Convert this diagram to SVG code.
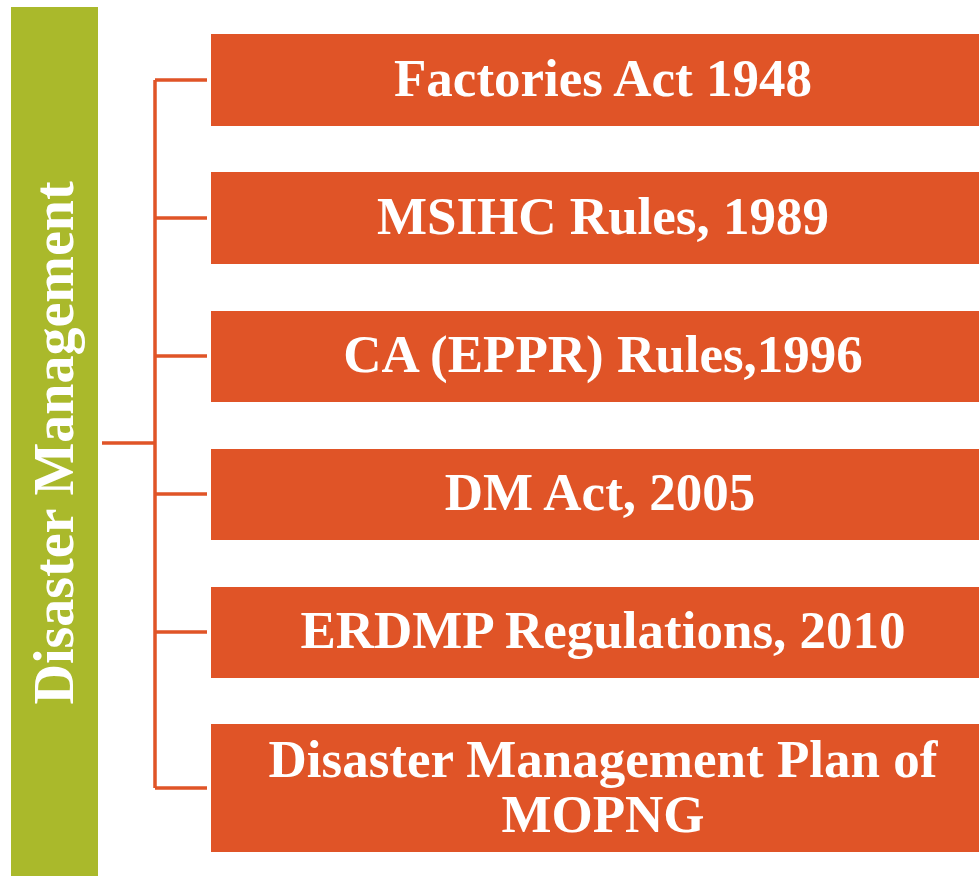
<svg xmlns="http://www.w3.org/2000/svg" width="979" height="876" viewBox="0 0 979 876">
<style>
.box{fill:#E05427;}
.lbl{font-family:"Liberation Serif","Times New Roman",serif;font-weight:bold;font-size:53px;fill:#FFFFFF;text-anchor:middle;}
.conn{fill:none;stroke:#E05427;stroke-width:3.5;}
</style>
<rect width="979" height="876" fill="#FFFFFF"/>
<g id="root">
<rect x="11" y="7" width="87" height="880" fill="#AAB92B"/>
<text transform="translate(73,443) rotate(-90)" font-family="Liberation Serif, Times New Roman, serif" font-weight="bold" font-size="56" fill="#FFFFFF" text-anchor="middle">Disaster Management</text>
</g>
<g id="connectors">
<path class="conn" d="M102,443 H155 M155,80 V788 M155,80 H207 M155,218 H207 M155,356 H207 M155,494 H207 M155,632 H207 M155,788 H207"/>
</g>
<g id="n1"><rect class="box" x="211" y="34" width="784" height="92"/><text class="lbl" x="603" y="96">Factories Act 1948</text></g>
<g id="n2"><rect class="box" x="211" y="172" width="784" height="92"/><text class="lbl" x="603" y="234">MSIHC Rules, 1989</text></g>
<g id="n3"><rect class="box" x="211" y="311" width="784" height="91"/><text class="lbl" x="603" y="372">CA (EPPR) Rules,1996</text></g>
<g id="n4"><rect class="box" x="211" y="449" width="784" height="91"/><text class="lbl" x="600" y="510">DM Act, 2005</text></g>
<g id="n5"><rect class="box" x="211" y="587" width="784" height="91"/><text class="lbl" x="603" y="648">ERDMP Regulations, 2010</text></g>
<g id="n6"><rect class="box" x="211" y="724" width="784" height="128"/><text class="lbl" x="603" y="777">Disaster Management Plan of</text><text class="lbl" x="603" y="832">MOPNG</text></g>
</svg>
